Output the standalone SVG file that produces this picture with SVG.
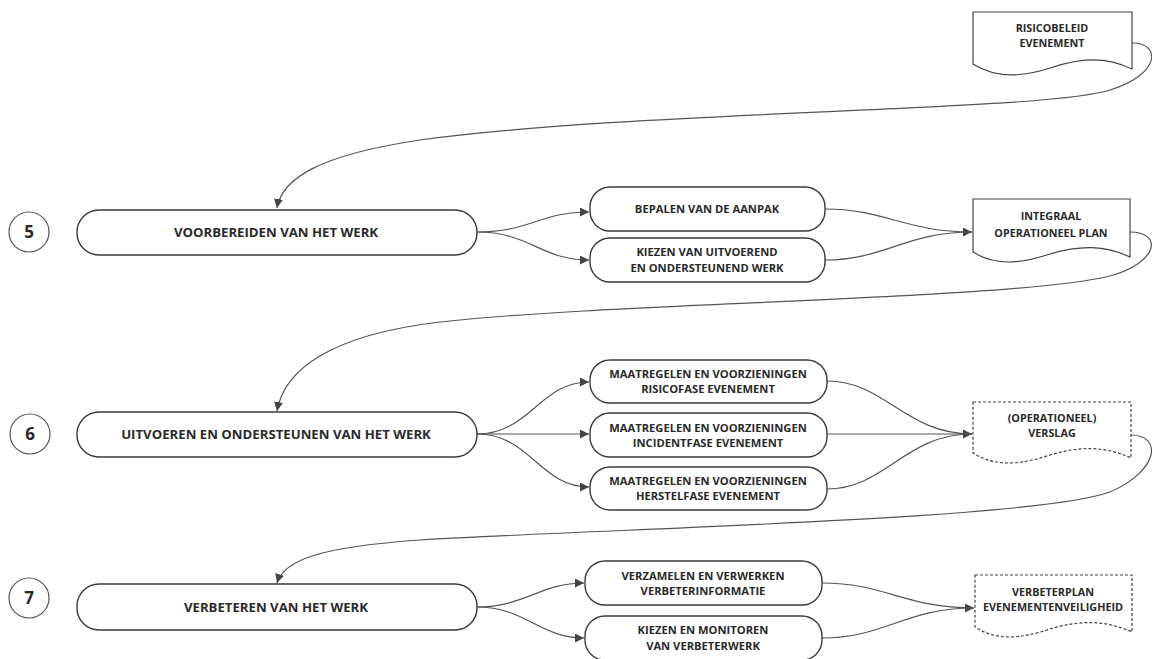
<svg xmlns="http://www.w3.org/2000/svg" width="1152" height="659" viewBox="0 0 1152 659">
<style>
.box{fill:#fff;stroke:#3a3a3a;stroke-width:1.4}
.doc{fill:#fff;stroke:#444;stroke-width:1.2}
.dash{stroke-dasharray:3 2}
.num{fill:#fff;stroke:#555;stroke-width:1.2}
.c{fill:none;stroke:#555;stroke-width:1.2}
text{font-family:"Open Sans","Liberation Sans",sans-serif;font-weight:700;fill:#2a2a2a;text-anchor:middle}
.t1{font-size:13.2px}
.t2{font-size:11.2px}
.t3{font-size:10.8px}
.n{font-size:17px}
</style>
<defs>
<marker id="ah" viewBox="0 0 10 10" refX="10" refY="5" markerWidth="9" markerHeight="9" markerUnits="userSpaceOnUse" orient="auto">
<path d="M0,0 L10,5 L0,10 Z" fill="#444"/>
</marker>
</defs>
<g id="connectors">
<path class="c" d="M1132,43 C1162,43 1160,75 1110,90 C1040,112 640,110 420,140 C320,155 282,178 277,208" marker-end="url(#ah)"/>
<path class="c" d="M477,232 C530,232 540,212 589,212" marker-end="url(#ah)"/>
<path class="c" d="M477,232 C530,232 540,260 589,260" marker-end="url(#ah)"/>
<path class="c" d="M825,209 C885,209 905,232 972,232" marker-end="url(#ah)"/>
<path class="c" d="M825,260 C885,260 905,232 972,232"/>
<path class="c" d="M1130,232 C1162,232 1160,262 1110,276 C1010,300 620,302 440,322 C330,335 284,370 277,411" marker-end="url(#ah)"/>
<path class="c" d="M477,434 C530,434 540,382 589,382" marker-end="url(#ah)"/>
<path class="c" d="M477,434 H589" marker-end="url(#ah)"/>
<path class="c" d="M477,434 C530,434 540,487 589,487" marker-end="url(#ah)"/>
<path class="c" d="M827,381 C885,381 905,434 972,434"/>
<path class="c" d="M827,434 H972" marker-end="url(#ah)"/>
<path class="c" d="M827,489 C885,489 905,434 972,434"/>
<path class="c" d="M1131,435 C1162,435 1160,470 1110,492 C1030,520 620,528 420,540 C320,547 284,560 277,583" marker-end="url(#ah)"/>
<path class="c" d="M477,607 C525,607 540,583 584,583" marker-end="url(#ah)"/>
<path class="c" d="M477,607 C525,607 540,638 584,638" marker-end="url(#ah)"/>
<path class="c" d="M822,583 C885,583 905,608 974,608" marker-end="url(#ah)"/>
<path class="c" d="M822,638 C885,638 905,608 974,608"/>
</g>
<g id="doc-risicobeleid">
<path class="doc" d="M973,12 H1132 V69 C1105,56 1080,58 1050,68 C1020,78 995,78 973,64 Z"/>
<text class="t3" x="1052" y="32">RISICOBELEID</text>
<text class="t3" x="1052" y="47">EVENEMENT</text>
</g>
<g id="step5-num"><circle class="num" cx="29" cy="232" r="20"/><text class="n" x="29" y="238">5</text></g>
<g id="step5"><rect class="box" x="77" y="210" width="400" height="45" rx="22"/><text class="t1" x="276" y="237">VOORBEREIDEN VAN HET WERK</text></g>
<g id="bepalen"><rect class="box" x="590" y="187" width="235" height="44" rx="20"/><text class="t2" x="707" y="213">BEPALEN VAN DE AANPAK</text></g>
<g id="kiezen"><rect class="box" x="590" y="238" width="235" height="44" rx="20"/><text class="t2" x="707" y="256">KIEZEN VAN UITVOEREND</text><text class="t2" x="707" y="272">EN ONDERSTEUNEND WERK</text></g>
<g id="doc-integraal">
<path class="doc" d="M973,199 H1130 V257 C1105,245 1080,245 1050,254 C1020,264 995,266 973,252 Z"/>
<text class="t3" x="1051" y="220">INTEGRAAL</text>
<text class="t3" x="1051" y="237">OPERATIONEEL PLAN</text>
</g>
<g id="step6-num"><circle class="num" cx="30" cy="434" r="20"/><text class="n" x="30" y="440">6</text></g>
<g id="step6"><rect class="box" x="77" y="412" width="400" height="45" rx="22"/><text class="t1" x="276" y="439">UITVOEREN EN ONDERSTEUNEN VAN HET WERK</text></g>
<g id="risicofase"><rect class="box" x="590" y="360" width="237" height="43" rx="20"/><text class="t2" x="708" y="378">MAATREGELEN EN VOORZIENINGEN</text><text class="t2" x="708" y="393">RISICOFASE EVENEMENT</text></g>
<g id="incidentfase"><rect class="box" x="590" y="413" width="237" height="44" rx="20"/><text class="t2" x="708" y="432">MAATREGELEN EN VOORZIENINGEN</text><text class="t2" x="708" y="447">INCIDENTFASE EVENEMENT</text></g>
<g id="herstelfase"><rect class="box" x="590" y="467" width="237" height="43" rx="20"/><text class="t2" x="708" y="485">MAATREGELEN EN VOORZIENINGEN</text><text class="t2" x="708" y="500">HERSTELFASE EVENEMENT</text></g>
<g id="doc-verslag">
<path class="doc dash" d="M973,402 H1131 V458 C1105,446 1080,446 1050,455 C1020,465 995,467 973,453 Z"/>
<text class="t3" x="1052" y="422">(OPERATIONEEL)</text>
<text class="t3" x="1052" y="437">VERSLAG</text>
</g>
<g id="step7-num"><circle class="num" cx="29" cy="598" r="20"/><text class="n" x="29" y="604">7</text></g>
<g id="step7"><rect class="box" x="77" y="584" width="400" height="46" rx="22"/><text class="t1" x="276" y="612">VERBETEREN VAN HET WERK</text></g>
<g id="verzamelen"><rect class="box" x="585" y="561" width="237" height="44" rx="20"/><text class="t2" x="703" y="580">VERZAMELEN EN VERWERKEN</text><text class="t2" x="703" y="595">VERBETERINFORMATIE</text></g>
<g id="monitoren"><rect class="box" x="585" y="616" width="237" height="44" rx="20"/><text class="t2" x="703" y="634">KIEZEN EN MONITOREN</text><text class="t2" x="703" y="650">VAN VERBETERWERK</text></g>
<g id="doc-verbeterplan">
<path class="doc dash" d="M975,575 H1132 V632 C1105,620 1080,620 1050,629 C1020,639 997,641 975,627 Z"/>
<text class="t3" x="1053" y="596">VERBETERPLAN</text>
<text class="t3" x="1053" y="611">EVENEMENTENVEILIGHEID</text>
</g>
</svg>
